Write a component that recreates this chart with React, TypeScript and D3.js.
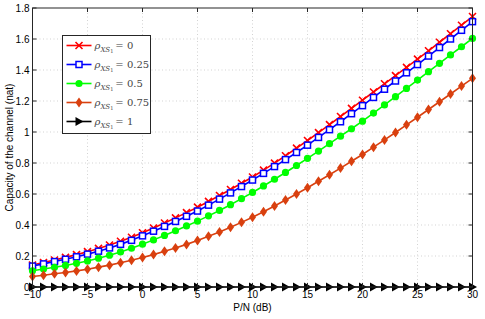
import React from 'react';
import * as d3 from 'd3';

const snrDb = [-10, -9, -8, -7, -6, -5, -4, -3, -2, -1, 0, 1, 2, 3, 4, 5, 6, 7, 8, 9, 10,
  11, 12, 13, 14, 15, 16, 17, 18, 19, 20, 21, 22, 23, 24, 25, 26, 27, 28, 29, 30];

const rho0 = [0.142, 0.158, 0.174, 0.191, 0.209, 0.228, 0.249, 0.271, 0.295, 0.321, 0.350,
  0.381, 0.413, 0.446, 0.480, 0.515, 0.552, 0.590, 0.629, 0.669, 0.710,
  0.754, 0.799, 0.847, 0.896, 0.945, 0.996, 1.048, 1.100, 1.152, 1.205,
  1.258, 1.311, 1.364, 1.417, 1.470, 1.524, 1.579, 1.634, 1.689, 1.745];
const rho025 = [0.135, 0.149, 0.164, 0.179, 0.195, 0.212, 0.231, 0.252, 0.275, 0.301, 0.330,
  0.360, 0.391, 0.423, 0.456, 0.490, 0.528, 0.567, 0.607, 0.648, 0.690,
  0.733, 0.777, 0.822, 0.868, 0.915, 0.965, 1.015, 1.066, 1.118, 1.170,
  1.223, 1.276, 1.329, 1.382, 1.435, 1.490, 1.545, 1.600, 1.656, 1.712];
const rho05 = [0.105, 0.116, 0.127, 0.139, 0.153, 0.168, 0.186, 0.205, 0.226, 0.250, 0.276,
  0.304, 0.333, 0.363, 0.394, 0.425, 0.459, 0.494, 0.531, 0.570, 0.610,
  0.652, 0.695, 0.739, 0.784, 0.830, 0.877, 0.925, 0.973, 1.021, 1.070,
  1.122, 1.175, 1.228, 1.281, 1.335, 1.389, 1.443, 1.497, 1.550, 1.604];
const rho075 = [0.068, 0.076, 0.085, 0.094, 0.104, 0.115, 0.128, 0.141, 0.156, 0.172, 0.190,
  0.209, 0.230, 0.252, 0.275, 0.300, 0.327, 0.355, 0.385, 0.417, 0.450,
  0.486, 0.523, 0.561, 0.600, 0.640, 0.682, 0.724, 0.767, 0.811, 0.855,
  0.902, 0.949, 0.997, 1.046, 1.095, 1.145, 1.195, 1.245, 1.296, 1.346];
const rho1 = [0, 0, 0, 0, 0, 0, 0, 0, 0, 0, 0, 0, 0, 0, 0, 0, 0, 0, 0, 0, 0,
  0, 0, 0, 0, 0, 0, 0, 0, 0, 0, 0, 0, 0, 0, 0, 0, 0, 0, 0, 0];

const legendLabels = ['0', '0.25', '0.5', '0.75', '1'];
const xTicks = [-10, -5, 0, 5, 10, 15, 20, 25, 30];
const yTicks = [0, 0.2, 0.4, 0.6, 0.8, 1, 1.2, 1.4, 1.6, 1.8];

const series = [
  { values: rho0, color: '#ff0000', marker: 'x' },
  { values: rho025, color: '#0000ff', marker: 'square' },
  { values: rho05, color: '#00ff00', marker: 'circle' },
  { values: rho075, color: '#d9400f', marker: 'diamond' },
  { values: rho1, color: '#000000', marker: 'triangle' },
];

const W = 485, H = 319;
const m = { left: 32.5, right: 12.5, top: 8, bottom: 32 };
const font = '"Liberation Sans", Arial, sans-serif';

const Marker = ({ type, x, y, color }) => {
  if (type === 'x') {
    const s = 3.5;
    return <path d={`M${x - s},${y - s}L${x + s},${y + s}M${x - s},${y + s}L${x + s},${y - s}`} stroke={color} strokeWidth={1.6} />;
  }
  if (type === 'square') {
    return <rect x={x - 3} y={y - 3} width={6} height={6} fill="white" stroke={color} strokeWidth={1.5} />;
  }
  if (type === 'circle') {
    return <circle cx={x} cy={y} r={3.6} fill={color} />;
  }
  if (type === 'diamond') {
    return <path d={`M${x},${y - 5}L${x + 3.5},${y}L${x},${y + 5}L${x - 3.5},${y}Z`} fill={color} />;
  }
  return <path d={`M${x - 3.5},${y - 4.5}L${x + 4.5},${y}L${x - 3.5},${y + 4.5}Z`} fill={color} />;
};

export default function App() {
  const x = d3.scaleLinear().domain([-10, 30]).range([m.left, W - m.right]);
  const y = d3.scaleLinear().domain([0, 1.8]).range([H - m.bottom, m.top]);
  const line = d3.line<number>().x((d, i) => x(snrDb[i])).y(d => y(d));
  const x0 = x(-10), x1 = x(30), y0 = y(0), y1 = y(1.8);

  const legX = 62.5, legY = 35.5, legW = 88, legH = 98;

  return (
    <svg width={W} height={H} style={{ position: 'absolute', left: 0, top: 0, background: 'white' }}>
      <rect x={0} y={0} width={W} height={H} fill="white" />
      {/* grid */}
      {xTicks.slice(1, -1).map(t => (
        <line key={'gx' + t} x1={x(t)} x2={x(t)} y1={y0} y2={y1} stroke="#c8c8c8" strokeWidth={0.8} strokeDasharray="1,2.5" />
      ))}
      {yTicks.slice(1, -1).map(t => (
        <line key={'gy' + t} x1={x0} x2={x1} y1={y(t)} y2={y(t)} stroke="#c8c8c8" strokeWidth={0.8} strokeDasharray="1,2.5" />
      ))}
      {/* series */}
      {series.map((s, k) => (
        <g key={k}>
          <path d={line(s.values) || ''} fill="none" stroke={s.color} strokeWidth={1.6} />
          {s.values.map((v, i) => (
            <Marker key={i} type={s.marker} x={x(snrDb[i])} y={y(v)} color={s.color} />
          ))}
        </g>
      ))}
      {/* frame */}
      <rect x={x0} y={y1} width={x1 - x0} height={y0 - y1} fill="none" stroke="#262626" strokeWidth={1} />
      {/* ticks */}
      {xTicks.map(t => (
        <g key={'tx' + t}>
          <line x1={x(t)} x2={x(t)} y1={y0} y2={y0 - 4} stroke="#262626" />
          <line x1={x(t)} x2={x(t)} y1={y1} y2={y1 + 4} stroke="#262626" />
          <text x={x(t)} y={y0 + 11} textAnchor="middle" fontFamily={font} fontSize={10} fill="#000">
            {t < 0 ? '\u2212' + Math.abs(t) : t}
          </text>
        </g>
      ))}
      {yTicks.map(t => (
        <g key={'ty' + t}>
          <line x1={x0} x2={x0 + 4} y1={y(t)} y2={y(t)} stroke="#262626" />
          <line x1={x1} x2={x1 - 4} y1={y(t)} y2={y(t)} stroke="#262626" />
          <text x={x0 - 3} y={y(t) + 3.5} textAnchor="end" fontFamily={font} fontSize={10} fill="#000">
            {t}
          </text>
        </g>
      ))}
      {/* axis labels */}
      <text x={(x0 + x1) / 2} y={311} textAnchor="middle" fontFamily={font} fontSize={10} fill="#000">P/N (dB)</text>
      <text transform={`translate(12.5,${(y0 + y1) / 2}) rotate(-90)`} textAnchor="middle" fontFamily={font} fontSize={10} fill="#000">
        Capacity of the channel (nat)
      </text>
      {/* legend */}
      <rect x={legX} y={legY} width={legW} height={legH} fill="white" stroke="#262626" strokeWidth={1} />
      {series.map((s, k) => {
        const ly = 45.5 + k * 19;
        return (
          <g key={'l' + k}>
            <line x1={66.5} x2={91.5} y1={ly} y2={ly} stroke={s.color} strokeWidth={1.6} />
            <Marker type={s.marker} x={79} y={ly} color={s.color} />
            <text x={94.5} y={ly + 3.5} fontFamily='"DejaVu Serif", "Liberation Serif", serif' fontSize={10} fill="#444">
              <tspan fontStyle="italic">ρ</tspan>
              <tspan fontStyle="italic" fontSize={7} dy={2.5}>XS</tspan>
              <tspan fontSize={5} dy={1.5}>1</tspan>
              <tspan dy={-4} dx={2}>= {legendLabels[k]}</tspan>
            </text>
          </g>
        );
      })}
    </svg>
  );
}
